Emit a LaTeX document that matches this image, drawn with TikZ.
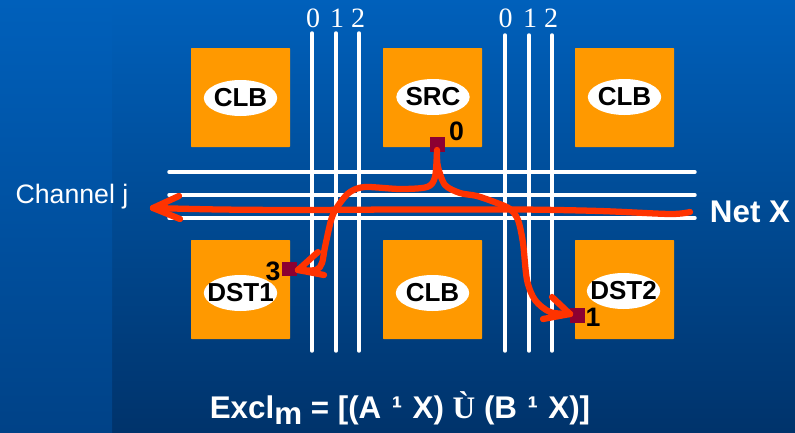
\documentclass[tikz,border=0pt]{standalone}
\usepackage{fontspec}
\setmainfont{Liberation Sans}
\newfontfamily\serfont{Liberation Serif}
\usetikzlibrary{shapes, arrows, positioning}
\definecolor{blockorange}{RGB}{255,153,0}
\definecolor{pinred}{RGB}{140,0,50}
\definecolor{netred}{RGB}{255,51,0}
\definecolor{bgtop}{RGB}{0,96,187}
\definecolor{bgmid}{RGB}{0,74,147}
\definecolor{bgbot}{RGB}{0,51,107}
\definecolor{bgleft}{RGB}{0,66,135}
\tikzset{
	block/.style={fill=blockorange, minimum size=74.25pt, inner sep=0pt, rounded corners=0.5pt},
	tag/.style={ellipse, fill=white, font=\fontsize{19.5}{20}\selectfont\bfseries, inner ysep=0pt, inner xsep=-7pt, minimum width=55pt, minimum height=27pt},
	pin/.style={fill=pinred, minimum size=11pt, inner sep=0pt},
	pinno/.style={font=\fontsize{20}{20}\selectfont\bfseries, inner sep=0pt},
	track/.style={draw=white, line width=2.6pt, line cap=round},
	trackno/.style={text=white, font=\fontsize{21}{21}\selectfont\serfont, inner sep=0pt},
	net/.style={draw=netred, line width=4.7pt, line cap=round, line join=round},
}
\begin{document}
\begin{tikzpicture}[x=0.75pt,y=-0.75pt]
		\useasboundingbox (0,0) rectangle (795,432);
		\shade[top color=bgtop, bottom color=bgbot, middle color=bgmid] (0,0) rectangle (795,432);
		\shade[top color=bgtop, bottom color=bgleft] (0,0) rectangle (112,432);
		% blocks
		\node[block] (clba) at (240.5,97.5) {};
		\node[block] (src) at (432.5,97.5) {};
		\node[block] (clbb) at (624.5,97.5) {};
		\node[block] (dsta) at (240.5,289.5) {};
		\node[block] (clbc) at (432.5,289.5) {};
		\node[block] (dstb) at (624.5,289.5) {};
		\node[tag] (tclba) at (240.5,98) {CLB};
		\node[tag] (tsrc) at (433,97) {SRC};
		\node[tag] (tclbb) at (624.5,97) {CLB};
		\node[tag] (tdsta) at (240.5,293) {DST1};
		\node[tag] (tclbc) at (432.5,293) {CLB};
		\node[tag] (tdstb) at (623.5,291) {DST2};
		% tracks
		\foreach \name/\tx/\ty in {a/312/33,b/336/33,c/359/33,d/505/35,e/529/35,f/552/35} {
			\coordinate (v\name t) at (\tx,\ty);
			\coordinate (v\name b) at (\tx,351);
			\draw[track] (v\name t) -- (v\name b);
		}
		\foreach \name/\ty in {a/172,b/195,c/218} {
			\coordinate (h\name l) at (169,\ty);
			\coordinate (h\name r) at (695,\ty);
			\draw[track] (h\name l) -- (h\name r);
		}
		\foreach \name/\tx/\lab in {na/313/0,nb/337/1,nc/358/2,nd/505.5/0,ne/530/1,nf/551/2}
			\node[trackno] (\name) at (\tx,18) {\lab};
		% pins
		\node[pin] (p0) at (437.5,144.5) {};
		\node[pin] (p3) at (289.5,269) {};
		\node[pin] (p1) at (577.5,315.5) {};
		\node[pinno] (l0) at (456.5,131) {0};
		\node[pinno] (l3) at (273,271) {3};
		\node[pinno] (l1) at (593,317) {1};
		% net
		\coordinate (netr) at (690,212);
		\coordinate (netl) at (153,208);
		\coordinate (tipa) at (298,270);
		\coordinate (tipb) at (570,314);
		\draw[net] plot[smooth, tension=.5] coordinates {(netr) (670,214) (600,211) (520,209.5) (400,209.5) (300,210) (220,209.5) (netl)};
		\draw[net] (netl) -- (179,196);
		\draw[net] (netl) -- (180,219);
		\draw[net] plot[smooth, tension=.5] coordinates {(437,150) (435,177) (427,187) (400,189) (365,187) (350,192) (340,203) (332,217) (325,247) (322,263) (316,270) (tipa)};
		\draw[net] (tipa) -- (318,252);
		\draw[net] (tipa) -- (324,275);
		\draw[net] plot[smooth, tension=.5] coordinates {(437,155) (438,167) (445,185) (460,193) (477,196) (497,203) (510,209) (518,220) (523,243) (527,280) (535,300) (550,312) (tipb)};
		\draw[net] (tipb) -- (552,297);
		\draw[net] (tipb) -- (543,319);
		% labels
		\node[text=white, font=\fontsize{20}{20}\selectfont, inner sep=0pt, anchor=base] (chan) at (72,203) {Channel j};
		\node[text=white, font=\fontsize{23.5}{24}\selectfont\bfseries, inner sep=0pt, anchor=base] (netx) at (750,222) {Net X};
		\node[text=white, font=\fontsize{23.5}{24}\selectfont\bfseries, inner sep=0pt, anchor=base] (excl) at (400,418)
			{Excl\raisebox{-5pt}{m} = [(A\,\,¹\,\,X) {\serfont Ù} (B\,\,¹\,\,X)]};
	\end{tikzpicture}
\end{document}
